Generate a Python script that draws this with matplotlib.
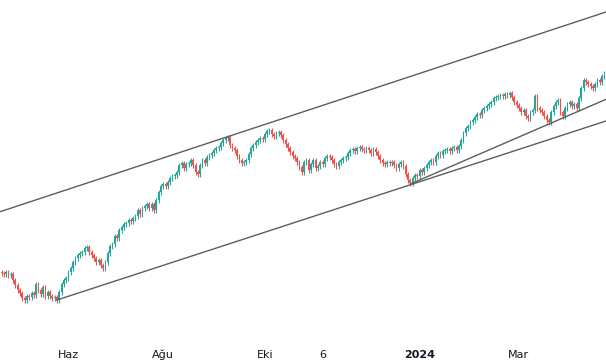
import numpy as np
import matplotlib
matplotlib.use("Agg")
import matplotlib.pyplot as plt

# closing prices, one per daily candle (arbitrary price units)
closes = [
    89, 88, 90, 87, 88, 82, 77, 72, 69, 64, 62, 66, 65, 69, 67, 78, 72, 68, 75, 66,
    70, 66, 64, 65, 62, 70, 78, 82, 84, 90, 94, 100, 104, 107, 109, 110, 114, 115, 110, 107,
    104, 100, 102, 97, 94, 100, 109, 116, 118, 126, 124, 132, 135, 138, 139, 142, 141, 144, 146, 152,
    148, 154, 156, 158, 154, 158, 152, 162, 170, 176, 178, 176, 180, 184, 186, 187, 190, 197, 199, 194,
    198, 199, 202, 197, 190, 188, 197, 202, 199, 205, 207, 209, 212, 214, 215, 219, 222, 224, 225, 217,
    214, 212, 206, 202, 199, 200, 202, 208, 214, 217, 220, 222, 224, 223, 228, 231, 232, 228, 226, 229,
    230, 227, 222, 218, 214, 210, 206, 204, 200, 195, 190, 200, 202, 192, 198, 202, 194, 196, 200, 198,
    204, 206, 205, 202, 198, 196, 200, 202, 204, 205, 209, 212, 213, 211, 214, 215, 213, 212, 214, 212,
    209, 213, 210, 206, 202, 199, 198, 200, 199, 200, 197, 194, 198, 200, 196, 188, 182, 179, 184, 187,
    186, 192, 190, 194, 197, 200, 202, 200, 206, 209, 207, 211, 212, 213, 211, 214, 215, 212, 216, 222,
    229, 234, 236, 240, 242, 245, 248, 247, 252, 254, 256, 258, 260, 264, 265, 266, 267, 266, 268, 267,
    269, 265, 260, 257, 254, 250, 252, 246, 244, 250, 252, 266, 254, 252, 250, 246, 242, 240, 250, 256,
    260, 262, 250, 246, 254, 258, 260, 256, 258, 254, 264, 274, 282, 280, 278, 276, 274, 278, 282, 280,
    286, 289,
]
first_open = 90

# trend lines drawn on the chart: (candle index, price) end points
upper_line = [(-1, 150), (263, 351)]
lower_line = [(24, 62), (263, 242)]
recent_line = [(177, 178), (263, 264)]

tick_pos = [29, 70, 114, 139, 181, 224]
tick_labels = ["Haz", "Ağu", "Eki", "6", "2024", "Mar"]

UP = "#26a69a"
DOWN = "#ef5350"

closes = np.array(closes, dtype=float)
opens = np.concatenate([[first_open], closes[:-1]])
x = np.arange(len(closes))
highs = np.maximum(opens, closes) + 2.5
lows = np.minimum(opens, closes) - 2.5
colors = np.where(closes >= opens, UP, DOWN)

fig = plt.figure(figsize=(6.06, 3.62), dpi=100)
ax = fig.add_axes([0, 0, 1, 1])

ax.vlines(x, lows, highs, colors=colors, linewidth=0.8)
body = np.maximum(np.abs(closes - opens), 1.0)
ax.bar(x, body, bottom=np.minimum(opens, closes), width=0.75, color=colors, linewidth=0)

for line in (upper_line, lower_line, recent_line):
    xs, ys = zip(*line)
    ax.plot(xs, ys, color="#5d5d5d", linewidth=1.0)

for p, lab in zip(tick_pos, tick_labels):
    ax.text(p, 1.5, lab, ha="center", va="bottom", fontsize=8, color="#131722",
            fontweight="bold" if lab == "2024" else "normal")

ax.set_xlim(-0.65, 261.7)
ax.set_ylim(0, 362)
ax.axis("off")

fig.savefig("out.png", dpi=100)
